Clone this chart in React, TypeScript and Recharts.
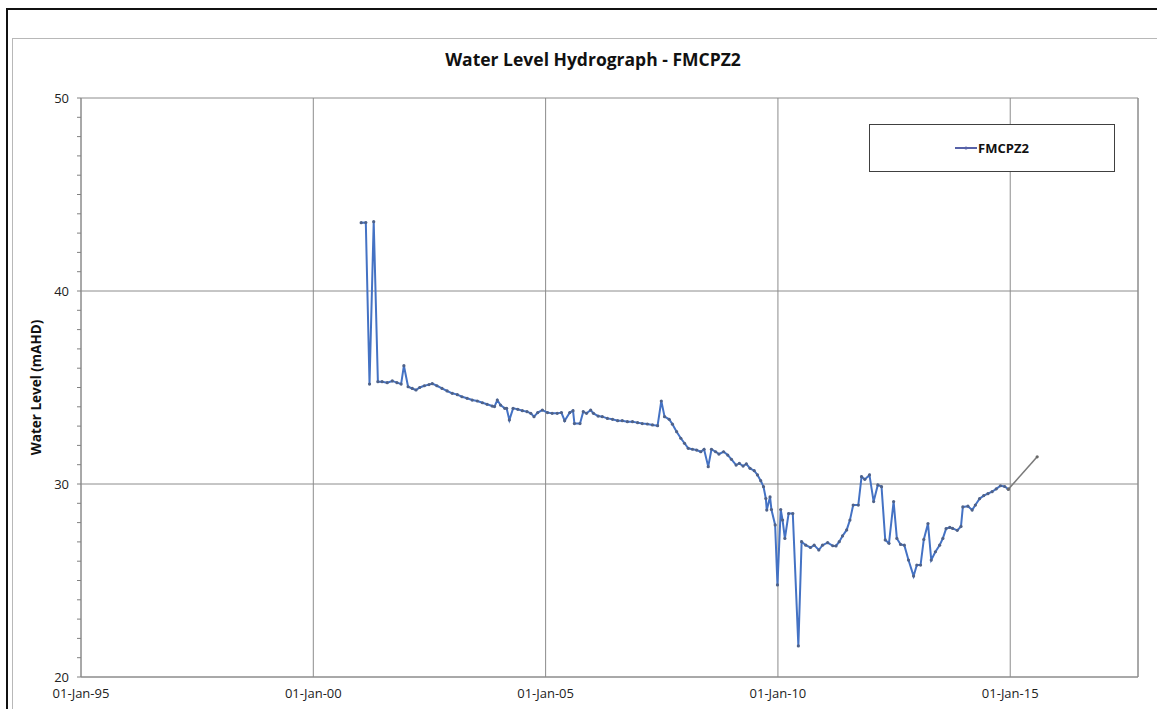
import { LineChart, Line, XAxis, YAxis, CartesianGrid, Legend, ReferenceLine } from 'recharts'

// decimal years
const years = [
  2001.03, 2001.13, 2001.21, 2001.3, 2001.39, 2001.48, 2001.59, 2001.7, 2001.8, 2001.89,
  2001.95, 2002.04, 2002.13, 2002.21, 2002.29, 2002.39, 2002.49, 2002.56, 2002.66, 2002.77,
  2002.88, 2002.99, 2003.1, 2003.2, 2003.31, 2003.42, 2003.53, 2003.64, 2003.74, 2003.85,
  2003.9, 2003.96, 2004.03, 2004.12, 2004.16, 2004.22, 2004.3, 2004.4, 2004.5, 2004.6,
  2004.68, 2004.75, 2004.83, 2004.93, 2005.04, 2005.14, 2005.25, 2005.34, 2005.41, 2005.52,
  2005.59, 2005.62, 2005.74, 2005.81, 2005.88, 2005.97, 2006.03, 2006.13, 2006.22, 2006.33,
  2006.44, 2006.55, 2006.65, 2006.76, 2006.87, 2006.98, 2007.08, 2007.19, 2007.3, 2007.41,
  2007.49, 2007.56, 2007.66, 2007.73, 2007.82, 2007.91, 2007.99, 2008.07, 2008.16, 2008.25,
  2008.34, 2008.41, 2008.5, 2008.57, 2008.66, 2008.73, 2008.83, 2008.92, 2009.0, 2009.1,
  2009.17, 2009.25, 2009.32, 2009.4, 2009.49, 2009.56, 2009.63, 2009.69, 2009.74, 2009.76,
  2009.83, 2009.86, 2009.94, 2009.99, 2010.06, 2010.1, 2010.15, 2010.23, 2010.32, 2010.44,
  2010.51, 2010.6, 2010.7, 2010.78, 2010.88, 2010.96, 2011.07, 2011.18, 2011.25, 2011.32,
  2011.39, 2011.48, 2011.55, 2011.62, 2011.73, 2011.8, 2011.87, 2011.97, 2012.06, 2012.15,
  2012.23, 2012.31, 2012.39, 2012.49, 2012.56, 2012.64, 2012.72, 2012.81, 2012.92, 2012.99,
  2013.07, 2013.14, 2013.23, 2013.3, 2013.39, 2013.48, 2013.55, 2013.62, 2013.7, 2013.76,
  2013.86, 2013.94, 2013.98, 2014.09, 2014.18, 2014.25, 2014.34, 2014.43, 2014.52, 2014.61,
  2014.7, 2014.79, 2014.88, 2014.96,
]

// water level, mAHD
const levels = [
  43.54, 43.55, 35.18, 43.59, 35.3, 35.3, 35.25, 35.34, 35.25, 35.18,
  36.13, 35.04, 34.95, 34.87, 35.0, 35.09, 35.15, 35.2, 35.09, 34.95,
  34.82, 34.7, 34.63, 34.52, 34.44, 34.35, 34.3, 34.21, 34.13, 34.04,
  34.01, 34.35, 34.09, 33.92, 33.92, 33.32, 33.92, 33.87, 33.8, 33.75,
  33.66, 33.49, 33.7, 33.83, 33.7, 33.66, 33.66, 33.7, 33.28, 33.7,
  33.8, 33.13, 33.13, 33.75, 33.66, 33.83, 33.66, 33.52, 33.49, 33.4,
  33.35, 33.28, 33.28, 33.23, 33.23, 33.18, 33.13, 33.11, 33.06, 33.02,
  34.3, 33.49, 33.35, 33.1, 32.71, 32.37, 32.11, 31.85, 31.8, 31.76,
  31.67, 31.8, 30.9, 31.8, 31.67, 31.55, 31.67, 31.5, 31.28, 30.98,
  31.07, 30.93, 31.04, 30.81, 30.69, 30.47, 30.17, 29.86, 29.25, 28.65,
  29.33, 28.68, 27.88, 24.77, 28.68, 28.13, 27.18, 28.47, 28.47, 21.61,
  27.01, 26.83, 26.71, 26.83, 26.58, 26.83, 26.96, 26.8, 26.79, 27.01,
  27.31, 27.62, 28.13, 28.91, 28.91, 30.38, 30.24, 30.47, 29.09, 29.95,
  29.86, 27.1, 26.93, 29.09, 27.18, 26.87, 26.83, 26.06, 25.23, 25.8,
  25.8, 27.13, 27.95, 26.06, 26.49, 26.83, 27.18, 27.69, 27.75, 27.7,
  27.6, 27.8, 28.81, 28.85, 28.65, 28.91, 29.24, 29.4, 29.5, 29.6,
  29.75, 29.91, 29.87, 29.73,
]

// last segment drawn in grey
const tailYears = [2014.96, 2015.58]
const tailLevels = [29.73, 31.41]

const xTicks = [1995, 2000, 2005, 2010, 2015]
const yTicks = [20, 30, 40, 50]
const yMinorTicks = [
  20, 21, 22, 23, 24, 25, 26, 27, 28, 29, 30, 31, 32, 33, 34, 35,
  36, 37, 38, 39, 40, 41, 42, 43, 44, 45, 46, 47, 48, 49, 50,
]

const mainData = years.map((year, i) => ({ year, level: levels[i] }))
const tailData = tailYears.map((year, i) => ({ year, level: tailLevels[i] }))

const FONT = '"Open Sans", "DejaVu Sans", sans-serif'
const GRID = '#8c8c8c'

function fmtDate(v: number): string {
  return `01-Jan-${String(v % 100).padStart(2, '0')}`
}

// y tick: minor tick mark on every unit, label only on the major ones
function YTick(props: any) {
  const { x, y, payload } = props
  const v = payload.value
  return (
    <g>
      <line x1={x + 8} y1={y} x2={x + 12} y2={y} stroke="#808080" strokeWidth={1} />
      {yTicks.includes(v) && (
        <text x={x} y={y} dy="0.35em" textAnchor="end" fontSize={13} fill="#222" fontFamily={FONT}>
          {v}
        </text>
      )}
    </g>
  )
}

function LegendBox(props: any) {
  const items = (props.payload || []).filter((p: any) => p.value === 'FMCPZ2')
  return (
    <div
      style={{
        width: 244,
        height: 46,
        border: '1px solid #404040',
        background: '#fff',
        display: 'flex',
        alignItems: 'center',
        justifyContent: 'center',
        fontFamily: FONT,
      }}
    >
      {items.map((p: any) => (
        <div key={p.value} style={{ display: 'flex', alignItems: 'center' }}>
          <svg width={22} height={6}>
            <line x1={0} y1={3} x2={22} y2={3} stroke="#5762a8" strokeWidth={2} />
            <circle cx={11} cy={3} r={1.6} fill="#5762a8" />
          </svg>
          <span style={{ fontSize: 13, fontWeight: 700, color: '#111', marginLeft: 1 }}>{p.value}</span>
        </div>
      ))}
    </div>
  )
}

export default function App() {
  return (
    <div
      style={{
        position: 'fixed',
        left: 0,
        top: 0,
        width: 1157,
        height: 709,
        overflow: 'hidden',
        background: '#fff',
      }}
    >
      <div
        style={{
          position: 'absolute',
          left: 6,
          top: 8,
          width: 1200,
          height: 800,
          borderLeft: '2px solid #111',
          borderTop: '2px solid #111',
        }}
      />
      <div
        style={{
          position: 'absolute',
          left: 12,
          top: 38,
          width: 1200,
          height: 800,
          borderLeft: '1px solid #b8b8b8',
          borderTop: '1px solid #b8b8b8',
        }}
      />
      <div
        style={{
          position: 'absolute',
          left: 293,
          top: 47,
          width: 600,
          textAlign: 'center',
          fontFamily: FONT,
          fontWeight: 700,
          fontSize: 17.5,
          lineHeight: '24px',
          color: '#111',
        }}
      >
        Water Level Hydrograph - FMCPZ2
      </div>
      <div style={{ position: 'absolute', left: 0, top: 0 }}>
        <LineChart width={1157} height={709} margin={{ top: 98, right: 18, bottom: 7, left: 28 }}>
          <CartesianGrid stroke={GRID} strokeWidth={1} horizontal={false} />
          {yTicks.map((v) => (
            <ReferenceLine key={v} y={v} stroke={GRID} strokeWidth={1} />
          ))}
          <XAxis
            dataKey="year"
            type="number"
            domain={[1995, 2017.75]}
            ticks={xTicks}
            tickFormatter={fmtDate}
            allowDataOverflow
            height={25}
            tickLine={false}
            tickSize={6}
            tickMargin={6}
            axisLine={{ stroke: GRID }}
            tick={{ fontSize: 13, fill: '#222', fontFamily: FONT }}
          />
          <YAxis
            type="number"
            domain={[20, 50]}
            ticks={yMinorTicks}
            interval={0}
            width={53}
            tickLine={false}
            axisLine={{ stroke: GRID }}
            tickSize={4}
            tickMargin={8}
            tick={YTick}
            label={{
              value: 'Water Level (mAHD)',
              angle: -90,
              position: 'insideLeft',
              offset: 8,
              style: { textAnchor: 'middle', fontSize: 13.5, fontWeight: 700, fill: '#111', fontFamily: FONT },
            }}
          />
          <YAxis
            yAxisId="right"
            orientation="right"
            type="number"
            domain={[20, 50]}
            ticks={yTicks}
            tick={false}
            tickLine={false}
            width={1}
            axisLine={{ stroke: GRID }}
          />
          <Legend
            content={LegendBox}
            layout="horizontal"
            align="center"
            verticalAlign="middle"
            wrapperStyle={{ position: 'absolute', left: 869, top: 124, width: 246, height: 48 }}
          />
          <Line
            data={mainData}
            dataKey="level"
            name="FMCPZ2"
            type="linear"
            stroke="#4472c4"
            strokeWidth={2}
            dot={{ r: 1.6, fill: '#4f6289', stroke: 'none' }}
            activeDot={false}
            isAnimationActive={false}
          />
          <Line
            data={tailData}
            dataKey="level"
            name="tail"
            type="linear"
            stroke="#7a7a7a"
            strokeWidth={1.6}
            dot={{ r: 1.6, fill: '#6a6a6a', stroke: 'none' }}
            activeDot={false}
            legendType="none"
            isAnimationActive={false}
          />
        </LineChart>
      </div>
    </div>
  )
}
